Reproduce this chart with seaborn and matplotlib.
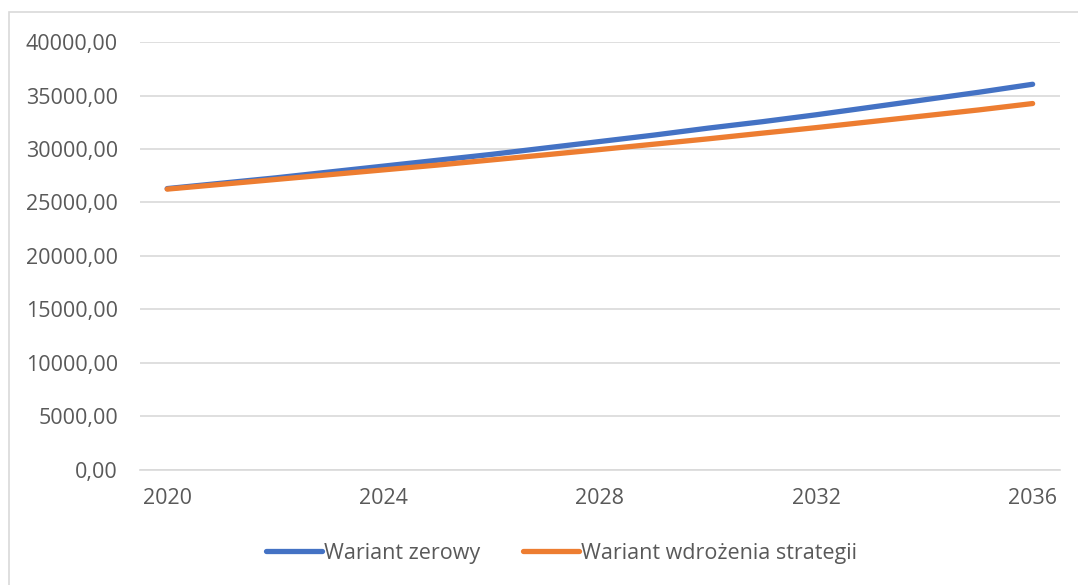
import matplotlib
matplotlib.use("Agg")
import matplotlib.pyplot as plt
import pandas as pd
import seaborn as sns
from matplotlib.patches import Rectangle
from matplotlib.ticker import FuncFormatter

lata = list(range(2020, 2037))
wariant_zerowy = [26300, 26800, 27300, 27850, 28400, 28950, 29500, 30100, 30700,
                  31300, 31950, 32550, 33200, 33900, 34600, 35300, 36050]
wariant_strategii = [26250, 26700, 27150, 27600, 28050, 28500, 28980, 29460, 29950,
                     30450, 30950, 31480, 32000, 32550, 33100, 33650, 34250]
etykiety_x = [2020, 2024, 2028, 2032, 2036]
serie = ["Wariant zerowy", "Wariant wdrożenia strategii"]
kolory = ["#4472C4", "#ED7D31"]

df = pd.DataFrame({"rok": lata * 2,
                   "wartosc": wariant_zerowy + wariant_strategii,
                   "seria": [serie[0]] * len(lata) + [serie[1]] * len(lata)})

sns.set_theme(style="white")
plt.rcParams["font.family"] = ["Open Sans", "DejaVu Sans"]
szary = "#595959"
rozmiar = 15.5

fig = plt.figure(figsize=(10.78, 5.85), dpi=100)
ax = fig.add_axes([0.130, 0.1966, 0.853, 0.7316])

sns.lineplot(data=df, x="rok", y="wartosc", hue="seria", hue_order=serie,
             palette=kolory, linewidth=3.8, ax=ax, legend=True,
             solid_capstyle="round")

ax.set_xlim(2019.5, 2036.5)
ax.set_ylim(0, 40000)
ax.set_yticks(range(0, 40001, 5000))
ax.set_xticks(etykiety_x)
ax.yaxis.set_major_formatter(FuncFormatter(lambda v, p: f"{v:.2f}".replace(".", ",")))
ax.grid(axis="y", color="#D9D9D9", linewidth=1.2)
ax.set_axisbelow(True)
for s in ["top", "right", "left"]:
    ax.spines[s].set_visible(False)
ax.spines["bottom"].set_color("#D9D9D9")
ax.spines["bottom"].set_linewidth(1.2)
ax.tick_params(axis="both", length=0, labelsize=rozmiar, colors=szary)
ax.tick_params(axis="y", pad=16)
ax.tick_params(axis="x", pad=13)
ax.set_xlabel("")
ax.set_ylabel("")

leg = ax.legend(loc="upper center", bbox_to_anchor=(0.458, -0.125), ncol=2,
                frameon=False, fontsize=rozmiar, handlelength=2.6,
                handletextpad=0.1, columnspacing=2.0)
for t in leg.get_texts():
    t.set_color(szary)
for h in leg.get_lines():
    h.set_linewidth(3.8)
    h.set_solid_capstyle("round")

# ramka wykresu
fig.patches.append(Rectangle((9 / 1078, -0.01), 1.2, 1 - 12 / 585 + 0.01,
                             transform=fig.transFigure, fill=False,
                             edgecolor="#D9D9D9", linewidth=1.2))

plt.savefig("out.png", dpi=100)
